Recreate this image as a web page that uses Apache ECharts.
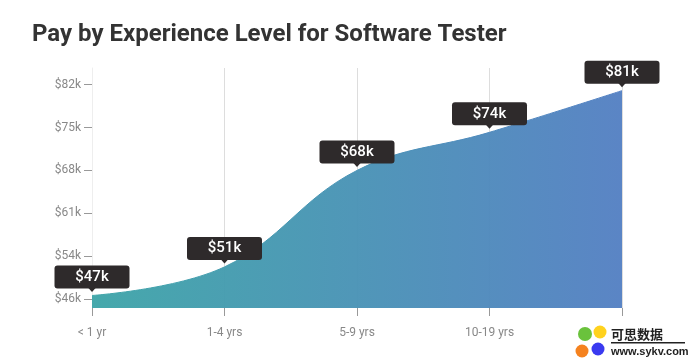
<!DOCTYPE html>
<html><head><meta charset="utf-8">
<script src="https://cdn.jsdelivr.net/npm/echarts@6/dist/echarts.min.js"></script>
<style>html,body{margin:0;padding:0;background:#fff}#c{width:689px;height:363px}</style>
</head><body><div id="c"></div>
<script>
const categories = ['< 1 yr','1-4 yrs','5-9 yrs','10-19 yrs','20+ yrs'];
const pay = [47, 51.8, 68, 74.4, 81.4];
const tickValues = [46.4, 53.6, 60.8, 68, 75.2, 82.4];
const chart = echarts.init(document.getElementById('c'), null, {renderer:'canvas'});
const fmt = v => '$' + Math.floor(v) + 'k';
const fill = {type:'linear',x:0,y:0,x2:1,y2:0,colorStops:[{offset:0,color:'#3ea5a8'},{offset:1,color:'#5480c3'}]};
chart.setOption({
  animation:false,
  textStyle:{fontFamily:'Roboto'},
  title:{text:'Pay by Experience Level for Software Tester',left:32,top:23,padding:0,
    textStyle:{fontFamily:'Roboto',fontSize:24,fontWeight:700,color:'#333'}},
  grid:{left:92,right:67,top:68,bottom:55},
  xAxis:{type:'category',data:categories,boundaryGap:false,
    axisLine:{show:false},
    axisTick:{show:true,length:8,alignWithLabel:true,lineStyle:{color:'#999'}},
    axisLabel:{color:'#888',fontSize:12,margin:19,interval:0,showMaxLabel:true,showMinLabel:true},
    splitLine:{show:true,lineStyle:{color:'#ddd',width:1}}},
  yAxis:{type:'value',min:44.9,max:85.2,
    axisLine:{show:true,onZero:false,lineStyle:{color:'#eee'}},
    axisTick:{show:true,length:8,customValues:tickValues,lineStyle:{color:'#999'}},
    axisLabel:{color:'#888',fontSize:12,margin:11,customValues:tickValues,formatter:v=>'$'+Math.round(v)+'k'},
    splitLine:{show:false}},
  series:[
   {type:'line',data:pay,smooth:0.4,symbol:'none',z:2,
    lineStyle:{width:1,color:fill},
    areaStyle:{opacity:0.96,origin:'start',color:fill}},
   {type:'scatter',data:pay,symbol:'triangle',symbolRotate:180,symbolSize:[9,5],symbolOffset:[0,-6],z:5,silent:true,
    itemStyle:{color:'#2e2a2b',opacity:1},
    label:{show:true,position:'top',distance:10,formatter:p=>fmt(p.value),
      width:75,height:23,lineHeight:23,align:'center',verticalAlign:'middle',
      backgroundColor:'#2e2a2b',borderRadius:3,color:'#fff',fontSize:15,fontWeight:500,fontFamily:'Roboto'}}
  ],
  graphic:[
    {type:'rect',shape:{x:572,y:322,width:117,height:41},style:{fill:'#fff'},z:10},
    {type:'circle',shape:{cx:585,cy:334,r:7},style:{fill:'#6ac23c'},z:11},
    {type:'circle',shape:{cx:600,cy:332,r:6.5},style:{fill:'#ffd21e'},z:11},
    {type:'circle',shape:{cx:582,cy:351,r:6.5},style:{fill:'#f5821f'},z:11},
    {type:'circle',shape:{cx:598,cy:349,r:6.5},style:{fill:'#3a3af0'},z:11},
    {type:'text',x:611,y:328,z:11,style:{text:'可思数据',fill:'#222',font:'bold 13px "Noto Sans CJK SC"'}},
    {type:'rect',shape:{x:611,y:342,width:74,height:1.5},style:{fill:'#222'},z:11},
    {type:'text',x:611,y:346,z:11,style:{text:'www.sykv.com',fill:'#222',font:'bold 11px "Liberation Sans"'}}
  ]
});
</script></body></html>
